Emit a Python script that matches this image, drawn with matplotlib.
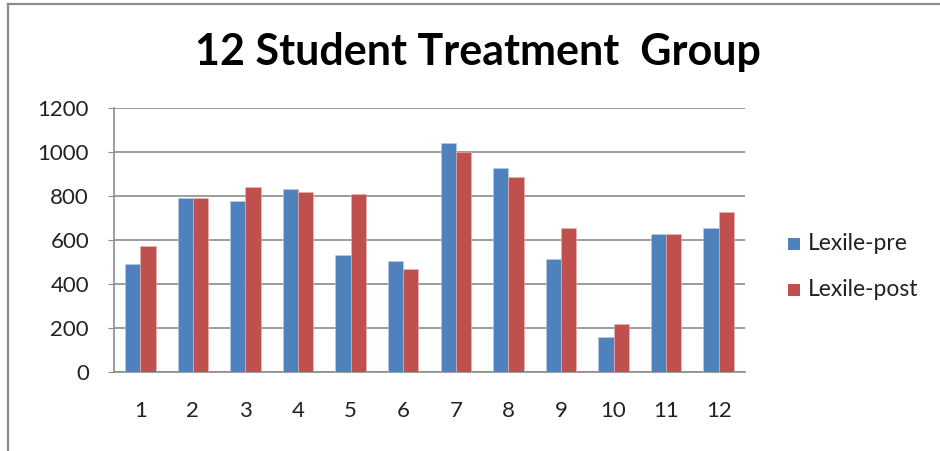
import matplotlib.pyplot as plt
import numpy as np
from matplotlib.patches import Rectangle
from matplotlib.lines import Line2D

plt.rcParams['font.family'] = ['Lato', 'DejaVu Sans']

students = ['1', '2', '3', '4', '5', '6', '7', '8', '9', '10', '11', '12']
lexile_pre = [490, 790, 776, 830, 531, 505, 1039, 929, 514, 159, 628, 654]
lexile_post = [572, 790, 841, 817, 811, 469, 1000, 888, 654, 219, 628, 729]

fig = plt.figure(figsize=(9.4, 4.51), dpi=100)

# outer chart frame (top and left edges only)
fig.add_artist(Line2D([8 / 940, 8 / 940], [0, 1 - 4 / 451], color='#8c8c8c', lw=1.6,
                      transform=fig.transFigure))
fig.add_artist(Line2D([8 / 940, 1], [1 - 4 / 451, 1 - 4 / 451], color='#8c8c8c', lw=1.6,
                      transform=fig.transFigure))

ax = fig.add_axes([114 / 940, 79 / 451, 631 / 940, 264 / 451])

x = np.arange(len(students))
w = 0.29
ax.bar(x - w / 2, lexile_pre, w, color='#4F81BD', edgecolor='#b9cde5', linewidth=0.4,
       label='Lexile-pre', zorder=3)
ax.bar(x + w / 2, lexile_post, w, color='#C0504D', edgecolor='#e6b9b8', linewidth=0.4,
       label='Lexile-post', zorder=3)

ax.set_xlim(-0.5, len(students) - 0.5)
ax.set_ylim(0, 1200)
ax.set_yticks(range(0, 1201, 200))
ax.set_xticks(x)
ax.set_xticklabels(students)
ax.yaxis.grid(True, color='#8c8c8c', linewidth=1.2, zorder=0)
ax.set_axisbelow(True)

for side in ['top', 'right']:
    ax.spines[side].set_visible(False)
for side in ['left', 'bottom']:
    ax.spines[side].set_color('#8c8c8c')
    ax.spines[side].set_linewidth(1.2)

ax.tick_params(axis='y', length=4, color='#8c8c8c', pad=14, labelsize=16, labelcolor='#222222')
ax.tick_params(axis='x', length=0, pad=21, labelsize=16, labelcolor='#222222')

fig.text(478 / 940, 1 - 52 / 451, '12 Student Treatment  Group', ha='center', va='center',
         fontsize=31, fontweight='bold', color='black')

# legend
for i, (lab, col) in enumerate([('Lexile-pre', '#4F81BD'), ('Lexile-post', '#C0504D')]):
    yc = 1 - (244 + 46 * i) / 451
    fig.add_artist(Rectangle((788 / 940, yc - 6 / 451), 12 / 940, 12 / 451,
                             facecolor=col, edgecolor='none', transform=fig.transFigure))
    fig.text(808 / 940, yc, lab, ha='left', va='center', fontsize=16.5, color='#222222')

fig.savefig('out.png', dpi=100)
